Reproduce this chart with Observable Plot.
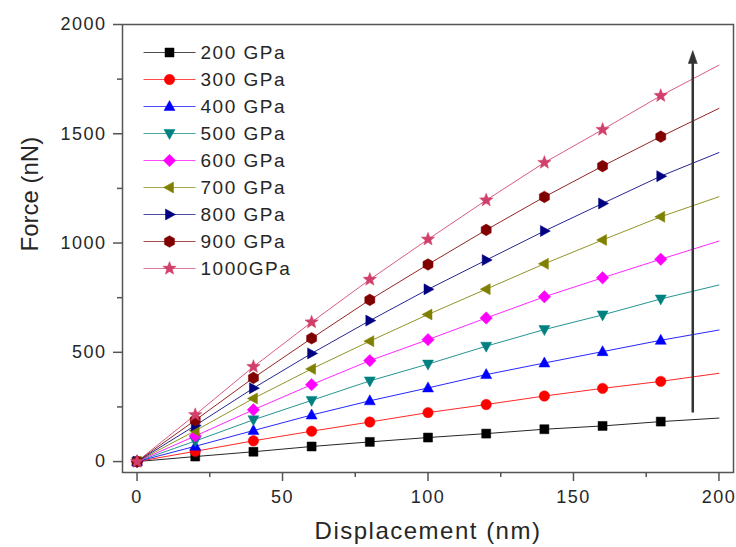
<!DOCTYPE html>
<html><head><meta charset="utf-8">
<script src="https://cdn.jsdelivr.net/npm/d3@7"></script>
<script src="https://cdn.jsdelivr.net/npm/@observablehq/plot@0.6"></script>
<style>
body{margin:0;background:#fff}
#chart svg text{letter-spacing:1.5px}
</style>
</head><body><div id="chart"></div>
<script>
// ---- data ----
const displacement = [0, 20, 40, 60, 80, 100, 120, 140, 160, 180, 200];
const modulusLabels = ["200 GPa","300 GPa","400 GPa","500 GPa","600 GPa","700 GPa","800 GPa","900 GPa","1000GPa"];
const force200  = [0, 23, 45, 69, 90, 110, 128, 148, 163, 183, 199];
const force300  = [0, 47, 95, 139, 181, 224, 261, 300, 335, 367, 404];
const force400  = [0, 70, 142, 213, 278, 337, 398, 451, 503, 555, 602];
const force500  = [0, 94, 191, 280, 369, 446, 528, 604, 671, 744, 808];
const force600  = [0, 117, 237, 352, 462, 558, 657, 754, 841, 926, 1009];
const force700  = [0, 141, 289, 424, 551, 673, 789, 905, 1014, 1120, 1212];
const force800  = [0, 165, 336, 495, 645, 788, 922, 1055, 1181, 1306, 1414];
const force900  = [0, 189, 383, 564, 740, 902, 1060, 1211, 1352, 1487, 1616];
const force1000 = [0, 214, 434, 638, 833, 1017, 1196, 1368, 1519, 1674, 1814];
const lastMarkedDisplacement = 180;
const xTicks = [0, 50, 100, 150, 200];
const xMinorTicks = [25, 75, 125, 175];
const yTicks = [0, 500, 1000, 1500, 2000];
const yMinorTicks = [250, 750, 1250, 1750];
const xLabel = "Displacement (nm)";
const yLabel = "Force (nN)";
const arrowAt = [191];
const arrowFrom = [222];
const arrowTo = [1881];

// ---- styles ----
const colors = ["#000000","#ff0000","#0000ff","#008080","#ff00ff","#808000","#000080","#800000","#d0406a"];
const poly = pts => ({draw(ctx){ctx.moveTo(pts[0][0], pts[0][1]); for (const p of pts.slice(1)) ctx.lineTo(p[0], p[1]); ctx.closePath();}});
const ring = (n, r, rot, r2) => {
  const pts = [];
  const m = r2 ? n * 2 : n;
  for (let i = 0; i < m; i++) {
    const a = rot + i * 2 * Math.PI / m;
    const rr = r2 && i % 2 ? r2 : r;
    pts.push([rr * Math.sin(a), -rr * Math.cos(a)]);
  }
  return poly(pts);
};
const symbols = [
  poly([[-4.5,-4.5],[4.5,-4.5],[4.5,4.5],[-4.5,4.5]]),
  {draw(ctx){ctx.moveTo(5.2,0); ctx.arc(0,0,5.2,0,2*Math.PI);}},
  poly([[0,-6],[5.5,4],[-5.5,4]]),
  poly([[0,6],[5.5,-4],[-5.5,-4]]),
  poly([[0,-6.2],[6.2,0],[0,6.2],[-6.2,0]]),
  poly([[-6,0],[4,-5.5],[4,5.5]]),
  poly([[6,0],[-4,-5.5],[-4,5.5]]),
  ring(6, 5.8, 0),
  ring(5, 7, 0, 3)
];
const hline = {draw(ctx){ctx.moveTo(-26,0); ctx.lineTo(26,0);}};
const arrowHead = poly([[0,0],[4.5,13],[-4.5,13]]);

const forces = [force200, force300, force400, force500, force600, force700, force800, force900, force1000];
const series = forces.map((f, i) => displacement.map((x, j) => ({x, y: f[j], s: modulusLabels[i]})));
const arrowData = arrowAt.map((x, i) => ({x, y1: arrowFrom[i], y2: arrowTo[i], shaftTop: arrowTo[i] - 40}));

const textColor = "#262626";
const axisColor = "#555";
const intFormat = d3.format("d");
const marks = [
  Plot.frame({stroke: axisColor, strokeWidth: 1.5}),
  Plot.axisX(xTicks, {tickSize: 9, tickPadding: 9, fontSize: 18, tickFormat: intFormat, label: null, stroke: axisColor, strokeWidth: 1.5, fill: textColor}),
  Plot.axisX(xMinorTicks, {tickSize: 5, tickFormat: () => "", label: null, stroke: axisColor, strokeWidth: 1.5}),
  Plot.axisY(yTicks, {tickSize: 9, tickPadding: 7, fontSize: 18, tickFormat: intFormat, label: null, stroke: axisColor, strokeWidth: 1.5, fill: textColor}),
  Plot.axisY(yMinorTicks, {tickSize: 5, tickFormat: () => "", label: null, stroke: axisColor, strokeWidth: 1.5}),
  Plot.text([xLabel], {frameAnchor: "bottom", dy: 59, text: d => d, fontSize: 24, fill: textColor, lineAnchor: "middle"}),
  Plot.text([yLabel], {frameAnchor: "left", dx: -92, dy: 3, rotate: -90, text: d => d, fontSize: 24, fill: textColor, lineAnchor: "middle"})
];
series.forEach((rows, i) => {
  marks.push(Plot.line(rows, {x: "x", y: "y", stroke: colors[i], strokeWidth: 1, strokeOpacity: 0.85}));
});
series.forEach((rows, i) => {
  marks.push(Plot.dot(rows.filter(d => d.x <= lastMarkedDisplacement), {x: "x", y: "y", symbol: symbols[i], fill: colors[i], stroke: colors[i], strokeWidth: 0.5}));
});
// legend
modulusLabels.forEach((lab, i) => {
  const dy = 28 + i * 27;
  marks.push(Plot.dot([lab], {frameAnchor: "top-left", dx: 47, dy, symbol: hline, stroke: colors[i], fill: "none", strokeWidth: 1, strokeOpacity: 0.7}));
  marks.push(Plot.dot([lab], {frameAnchor: "top-left", dx: 47, dy, symbol: symbols[i], fill: colors[i], stroke: colors[i], strokeWidth: 0.5}));
  marks.push(Plot.text([lab], {frameAnchor: "top-left", dx: 78, dy, text: d => d, textAnchor: "start", lineAnchor: "middle", fontSize: 19, fill: textColor}));
});
// arrow
marks.push(Plot.ruleX(arrowData, {x: "x", y1: "y1", y2: "shaftTop", stroke: "#333", strokeWidth: 2.5}));
marks.push(Plot.dot(arrowData, {x: "x", y: "y2", symbol: arrowHead, fill: "#333", stroke: "#333", strokeWidth: 0.5}));

const chart = Plot.plot({
  width: 736, height: 547,
  marginLeft: 122, marginRight: 3, marginTop: 24, marginBottom: 75,
  x: {domain: [-5, 205], label: null},
  y: {domain: [-50, 2000], label: null},
  style: {fontFamily: "'Liberation Sans', Arial, sans-serif", background: "#fff", color: textColor},
  marks
});
document.getElementById("chart").appendChild(chart);
d3.select(chart).selectAll("text").filter(function(){ return this.textContent === yLabel; }).style("letter-spacing", "0px");
</script>
</body></html>
